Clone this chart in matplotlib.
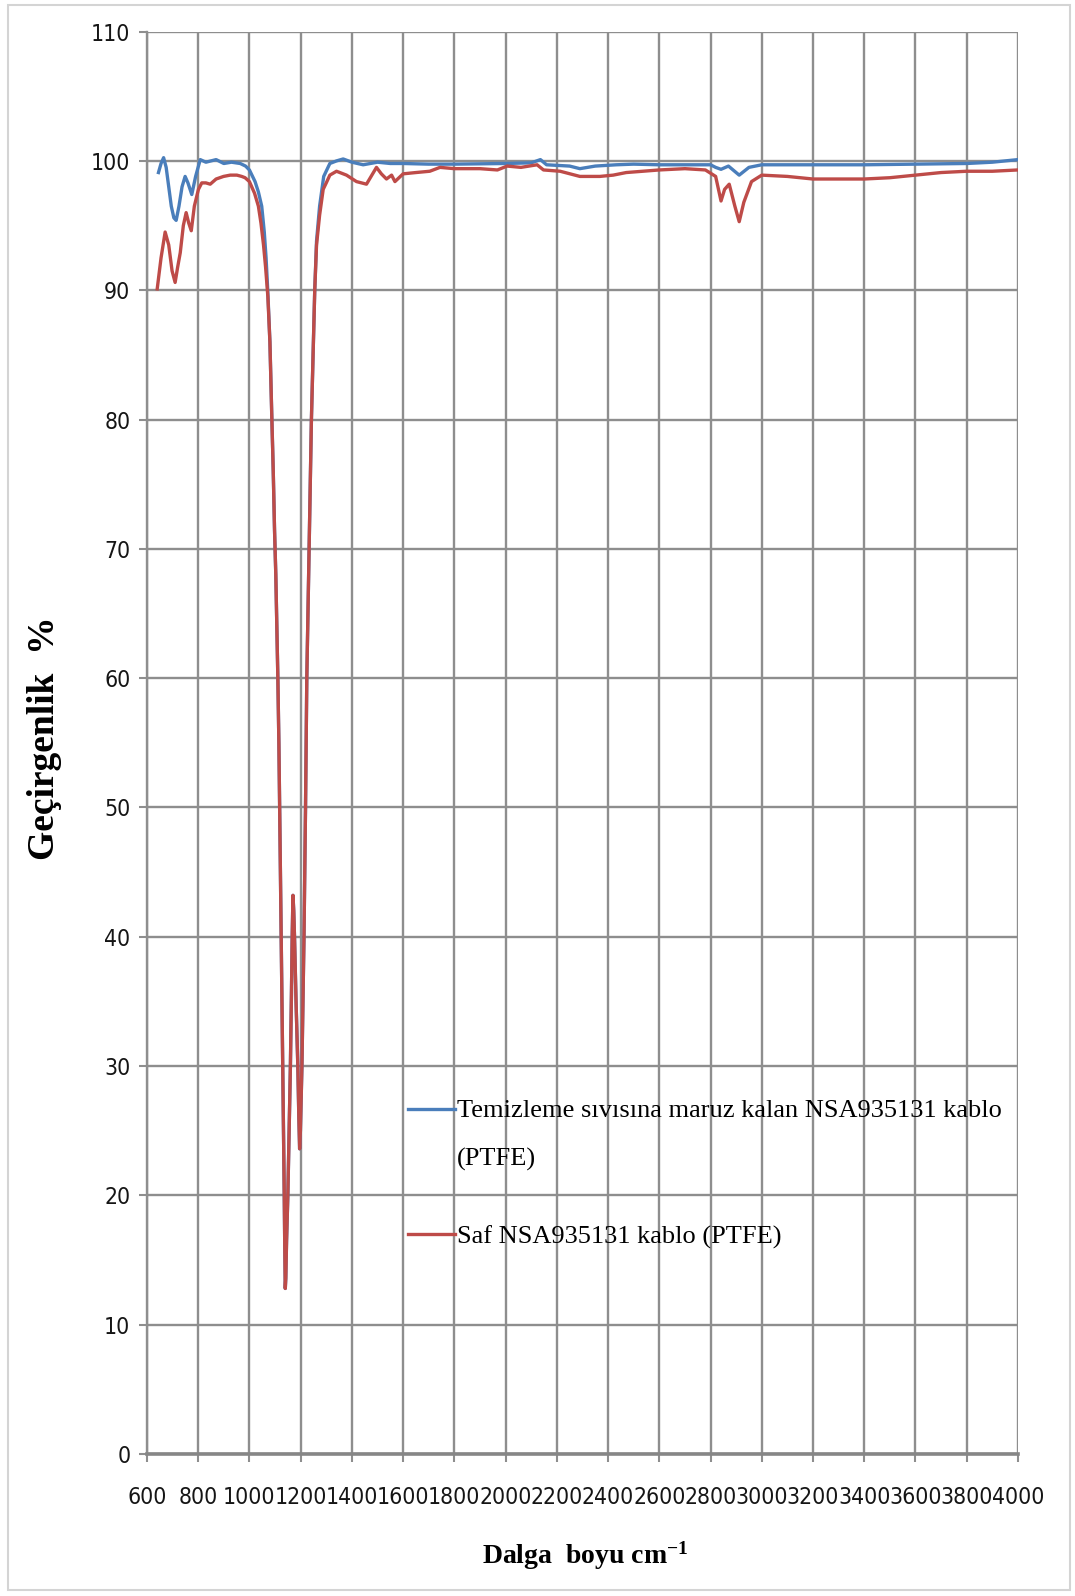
import matplotlib
matplotlib.use("Agg")
import matplotlib.pyplot as plt
from matplotlib.lines import Line2D
from matplotlib.patches import Rectangle

# FTIR transmittance spectra of NSA935131 cable insulation (PTFE)
wavenumber_saf = [
    640, 655, 671, 685, 698, 710, 720, 730, 742, 753, 763, 773, 785, 801, 814,
    830, 847, 870, 899, 925, 951, 970, 983, 1000, 1020, 1035, 1045, 1055, 1063,
    1072, 1080, 1087, 1093, 1098, 1103, 1107, 1111, 1115, 1118, 1121, 1124,
    1127, 1130, 1133, 1136, 1138, 1140, 1142, 1145, 1150, 1155, 1160, 1164,
    1167, 1170, 1173, 1176, 1182, 1189, 1193, 1196, 1199, 1205, 1209, 1213,
    1216, 1219, 1224, 1233, 1242, 1255, 1262, 1274, 1288, 1300, 1314, 1340,
    1379, 1418, 1457, 1475, 1496, 1515, 1535, 1555, 1568, 1600, 1650, 1704,
    1744, 1800, 1852, 1900, 1968, 2006, 2060, 2123, 2148, 2213, 2290, 2368,
    2420, 2471, 2600, 2700, 2780, 2820, 2841, 2855, 2873, 2895, 2912, 2930,
    2960, 3000, 3100, 3200, 3300, 3400, 3500, 3600, 3700, 3800, 3900, 4000,
]
transmittance_saf = [
    90.1, 92.5, 94.5, 93.5, 91.5, 90.6, 91.8, 92.9, 95.0, 96.0, 95.2, 94.6,
    96.5, 97.8, 98.3, 98.3, 98.2, 98.6, 98.8, 98.9, 98.9, 98.8, 98.7, 98.4,
    97.5, 96.5, 95.2, 93.5, 91.8, 89.5, 86.0, 80.5, 76.0, 71.5, 68.0, 64.0,
    60.0, 55.0, 50.0, 45.0, 40.0, 35.0, 30.0, 25.0, 20.0, 16.0, 12.8, 13.6,
    16.5, 20.0, 25.0, 30.0, 35.5, 40.0, 43.2, 42.0, 40.0, 35.0, 30.0, 26.0,
    23.6, 25.0, 30.0, 35.0, 40.0, 45.0, 50.0, 60.0, 70.0, 80.0, 90.0, 93.5,
    95.8, 97.8, 98.3, 98.9, 99.2, 98.9, 98.4, 98.2, 98.8, 99.5, 99.0, 98.6,
    98.9, 98.4, 99.0, 99.1, 99.2, 99.5, 99.4, 99.4, 99.4, 99.3, 99.6, 99.5,
    99.7, 99.3, 99.2, 98.8, 98.8, 98.9, 99.1, 99.3, 99.4, 99.3, 98.8, 96.9,
    97.8, 98.2, 96.5, 95.3, 96.8, 98.4, 98.9, 98.8, 98.6, 98.6, 98.6, 98.7,
    98.9, 99.1, 99.2, 99.2, 99.3,
]

wavenumber_temiz = [
    645, 655, 665, 675, 685, 695, 705, 714, 725, 737, 749, 760, 775, 790, 808,
    830, 850, 870, 900, 930, 964, 985, 1000, 1022, 1035, 1048, 1058, 1065,
    1072, 1080, 1087, 1093, 1098, 1103, 1107, 1111, 1115, 1118, 1121, 1124,
    1127, 1130, 1133, 1136, 1138, 1140, 1142, 1145, 1150, 1155, 1160, 1164,
    1167, 1170, 1173, 1176, 1182, 1189, 1193, 1196, 1199, 1205, 1209, 1213,
    1216, 1219, 1224, 1233, 1242, 1255, 1262, 1274, 1290, 1314, 1340, 1366,
    1400, 1444, 1500, 1550, 1600, 1700, 1800, 2000, 2100, 2136, 2160, 2250,
    2290, 2350, 2432, 2500, 2600, 2700, 2800, 2820, 2841, 2870, 2912, 2950,
    3000, 3200, 3400, 3600, 3800, 3900, 4000,
]
transmittance_temiz = [
    99.1, 99.8, 100.25, 99.5, 98.0, 96.5, 95.6, 95.4, 96.5, 98.0, 98.8, 98.3,
    97.4, 98.8, 100.1, 99.9, 100.0, 100.1, 99.8, 99.9, 99.8, 99.6, 99.3, 98.4,
    97.6, 96.5, 94.5, 92.5, 89.8, 86.0, 80.5, 76.0, 71.5, 68.0, 64.0, 60.0,
    55.0, 50.0, 45.0, 40.0, 35.0, 30.0, 25.0, 20.0, 16.0, 12.8, 13.6, 16.5,
    20.0, 25.0, 30.0, 35.5, 40.0, 43.2, 42.0, 40.0, 35.0, 30.0, 26.0, 23.6,
    25.0, 30.0, 35.0, 40.0, 45.0, 50.0, 60.0, 70.0, 80.0, 90.0, 93.8, 96.5,
    98.8, 99.8, 100.0, 100.15, 99.9, 99.7, 99.9, 99.8, 99.8, 99.75, 99.75,
    99.8, 99.85, 100.1, 99.7, 99.6, 99.4, 99.6, 99.7, 99.75, 99.7, 99.7, 99.7,
    99.5, 99.35, 99.6, 98.9, 99.5, 99.7, 99.7, 99.7, 99.75, 99.8, 99.9, 100.1,
]

x_ticks = list(range(600, 4001, 200))
y_ticks = list(range(0, 111, 10))

label_temiz = "Temizleme sıvısına maruz kalan NSA935131 kablo\n(PTFE)"
label_saf = "Saf NSA935131 kablo (PTFE)"
y_title = "Geçirgenlik  %"
x_title = "Dalga  boyu cm$^{-1}$"

BLUE = "#4a7ebb"
RED = "#be4b48"
GRID = "#8e8e8e"

plt.rcParams["mathtext.fontset"] = "custom"
plt.rcParams["mathtext.rm"] = "Liberation Serif:bold"
plt.rcParams["mathtext.it"] = "Liberation Serif:bold"

fig = plt.figure(figsize=(10.75, 15.96), dpi=100)
fig.patch.set_facecolor("white")
fig.add_artist(Rectangle((0.007, 0.004), 0.988, 0.993, transform=fig.transFigure,
                         fill=False, edgecolor="#d4d4d4", linewidth=1.5))

ax = fig.add_axes([0.1367, 0.0890, 0.8102, 0.8912])
ax.plot(wavenumber_temiz, transmittance_temiz, color=BLUE, lw=2.4,
        solid_joinstyle="round", zorder=3)
ax.plot(wavenumber_saf, transmittance_saf, color=RED, lw=2.4,
        solid_joinstyle="round", zorder=4)

ax.set_xlim(600, 4000)
ax.set_ylim(0, 110)
ax.set_xticks(x_ticks)
ax.set_yticks(y_ticks)
ax.grid(True, color=GRID, lw=1.7, zorder=0)
for side in ("top", "right"):
    ax.spines[side].set_visible(False)
ax.spines["left"].set_color(GRID)
ax.spines["left"].set_linewidth(1.7)
ax.spines["bottom"].set_color("#868686")
ax.spines["bottom"].set_linewidth(2.6)
ax.tick_params(axis="both", direction="out", length=6, width=1.5, color=GRID,
               labelcolor="#151515")
ax.tick_params(axis="y", pad=6)
ax.tick_params(axis="x", pad=17)
for lab in ax.get_xticklabels() + ax.get_yticklabels():
    lab.set_family("DejaVu Sans")
    lab.set_fontstretch("condensed")
    lab.set_fontsize(16.5)

handles = [Line2D([], [], color=BLUE, lw=2.4), Line2D([], [], color=RED, lw=2.4)]
leg = ax.legend(handles, [label_temiz, label_saf], loc="upper left",
                bbox_to_anchor=(0.285, 0.258), frameon=False, borderpad=0,
                handlelength=1.75, handletextpad=0.1, labelspacing=2.05,
                prop={"family": "Liberation Serif", "size": 19})
for txt in leg.get_texts():
    txt.set_linespacing(2.45)
# keep the blue key level with the first text line of its two-line label
first_key = leg.legend_handles[0]
first_key.set_ydata([y + 18.5 for y in first_key.get_ydata()])

fig.text(45 / 1075, 1 - 738 / 1596, y_title, rotation=90, ha="center",
         va="center", family="Liberation Serif", fontweight="bold", fontsize=27)
fig.text(585 / 1075, 1 - 1556 / 1596, x_title, ha="center", va="center",
         family="Liberation Serif", fontweight="bold", fontsize=20)

fig.savefig("out.png", dpi=100)
